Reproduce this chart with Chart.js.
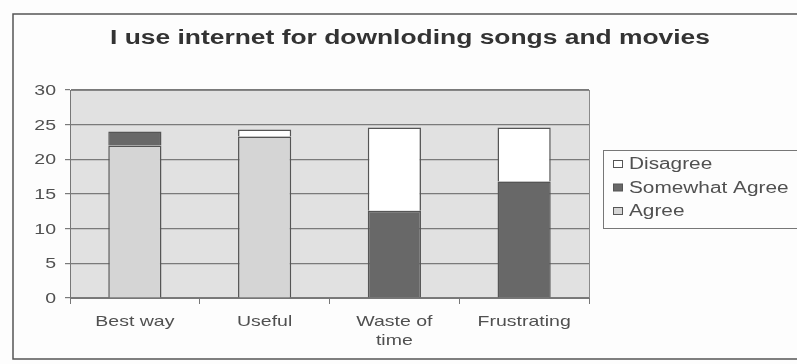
<!DOCTYPE html>
<html>
<head>
<meta charset="utf-8">
<script src="https://cdn.jsdelivr.net/npm/chart.js@4/dist/chart.umd.min.js"></script>
<style>
  html, body { margin: 0; padding: 0; background: #fcfcfc; }
  #wrap { width: 797px; height: 364px; }
</style>
</head>
<body>
<div id="wrap"><canvas id="c" width="797" height="364"></canvas></div>
<script>
// Survey responses per statement
const categories = ['Best way', 'Useful', ['Waste of', 'time'], 'Frustrating'];
const agree = [22, 23.3, 0, 0];
const somewhatAgree = [2, 0, 12.6, 16.8];
const disagree = [0, 1, 12, 7.8];
const yTicks = [0, 5, 10, 15, 20, 25, 30];
const chartTitle = 'I use internet for downloding songs and movies';

const FONT = '"Liberation Sans", Arial, sans-serif';
const TEXT = '#505050';
const WIDEN = 1.3;   // wide lettering used throughout the chart

// Draws text widened horizontally by k around its anchor
function wideText(ctx, str, x, y, align, k) {
  ctx.save();
  ctx.translate(x, y);
  ctx.scale(k, 1);
  ctx.textAlign = align;
  ctx.fillText(str, 0, 0);
  ctx.restore();
}

// Frame, plot background, title, axis labels and boxed legend
const decor = {
  id: 'decor',
  beforeDraw(chart) {
    const { ctx, chartArea: a } = chart;
    ctx.save();
    ctx.fillStyle = '#fdfdfd';
    ctx.fillRect(0, 0, chart.width, chart.height);
    ctx.strokeStyle = '#555';
    ctx.lineWidth = 1.5;
    ctx.strokeRect(13, 14, 800, 345);
    ctx.fillStyle = '#e1e1e1';
    ctx.fillRect(a.left, a.top, a.right - a.left, a.bottom - a.top);
    ctx.strokeStyle = '#8a8a8a';
    ctx.lineWidth = 1;
    ctx.strokeRect(a.left + 0.5, a.top + 0.5, a.right - a.left, a.bottom - a.top);
    ctx.restore();
  },
  afterDraw(chart) {
    const { ctx } = chart;
    const xs = chart.scales.x, ys = chart.scales.y;
    ctx.save();

    // title
    ctx.fillStyle = '#333';
    ctx.font = 'bold 20px ' + FONT;
    ctx.textBaseline = 'alphabetic';
    wideText(ctx, chartTitle, 410, 44, 'center', 1.32);

    // category labels
    ctx.fillStyle = TEXT;
    ctx.font = '15px ' + FONT;
    chart.data.labels.forEach((lab, i) => {
      const lines = Array.isArray(lab) ? lab : [lab];
      const x = xs.getPixelForTick(i);
      lines.forEach((ln, j) => wideText(ctx, ln, x, xs.top + 28 + j * 19, 'center', WIDEN));
    });

    // value labels
    ctx.textBaseline = 'middle';
    ys.ticks.forEach((t, i) => {
      wideText(ctx, String(t.value), ys.right - 14, ys.getPixelForTick(i) + 1, 'right', WIDEN);
    });

    // legend box
    ctx.strokeStyle = '#777';
    ctx.lineWidth = 1;
    ctx.fillStyle = '#fdfdfd';
    ctx.fillRect(603.5, 150.5, 200, 78);
    ctx.strokeRect(603.5, 150.5, 200, 78);
    ctx.font = '16px ' + FONT;
    const ds = chart.data.datasets.slice().reverse();
    ds.forEach((d, i) => {
      const y = 164 + i * 23.5;
      ctx.fillStyle = d.backgroundColor;
      ctx.fillRect(613.5, y - 3.5, 9, 7);
      ctx.strokeStyle = '#555';
      ctx.strokeRect(613.5, y - 3.5, 9, 7);
      ctx.fillStyle = TEXT;
      wideText(ctx, d.label, 629, y + 1, 'left', 1.3);
    });
    ctx.restore();
  }
};

new Chart(document.getElementById('c'), {
  type: 'bar',
  data: {
    labels: categories,
    datasets: [
      { label: 'Agree', data: agree, backgroundColor: '#d5d5d5', borderColor: '#555', borderWidth: 1.5 },
      { label: 'Somewhat Agree', data: somewhatAgree, backgroundColor: '#686868', borderColor: '#555', borderWidth: 1.5 },
      { label: 'Disagree', data: disagree, backgroundColor: '#ffffff', borderColor: '#555', borderWidth: 1.5 }
    ]
  },
  options: {
    responsive: false,
    animation: false,
    layout: { padding: { left: 20, right: 208, top: 90, bottom: 16 } },
    datasets: { bar: { barPercentage: 0.41, categoryPercentage: 1 } },
    plugins: { legend: { display: false }, title: { display: false }, tooltip: { enabled: false } },
    scales: {
      x: {
        stacked: true,
        afterFit(s) { s.height = 50; },
        grid: { offset: true, drawOnChartArea: false, drawTicks: true, tickLength: 6, color: '#777' },
        border: { color: '#777' },
        ticks: { color: 'rgba(0,0,0,0)', font: { family: FONT, size: 15 }, padding: 6, maxRotation: 0 }
      },
      y: {
        stacked: true,
        min: 0,
        max: 30,
        afterFit(s) { s.width = 50; },
        afterBuildTicks(s) { s.ticks = yTicks.map(v => ({ value: v })); },
        grid: { color: '#7a7a7a', lineWidth: 1.2, tickLength: 5 },
        border: { color: '#777' },
        ticks: { color: 'rgba(0,0,0,0)', font: { family: FONT, size: 15 }, padding: 6 }
      }
    }
  },
  plugins: [decor]
});
</script>
</body>
</html>
